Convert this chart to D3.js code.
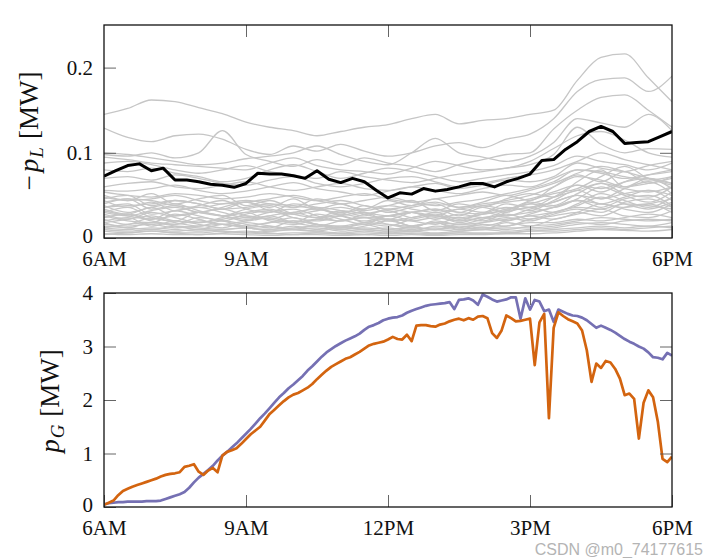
<!DOCTYPE html>
<html>
<head>
<meta charset="utf-8">
<script src="https://cdn.jsdelivr.net/npm/d3@7"></script>
<style>
  body { margin: 0; background: #fff; }
  svg { display: block; }
</style>
</head>
<body>
<div id="chart"></div>
<script>
// ---------------------------------------------------------
//  Load profiles (top) and PV generation (bottom), 6AM-6PM
// ---------------------------------------------------------
const hourTicks  = [6, 9, 12, 15, 18];
const hourLabels = ['6AM', '9AM', '12PM', '3PM', '6PM'];

// gray load profiles, sampled every 30 min, -p_L in MW
const loadHours = d3.range(25).map(i => 6 + i / 2);
const loadProfiles = [
  [.145,.152,.162,.160,.153,.146,.136,.130,.126,.120,.125,.130,.133,.140,.145,.134,.138,.140,.145,.150,.185,.212,.216,.188,.160],
  [.129,.118,.113,.120,.122,.116,.104,.098,.108,.102,.110,.102,.096,.100,.108,.112,.106,.116,.122,.140,.172,.186,.188,.172,.190],
  [.098,.096,.100,.094,.100,.126,.098,.090,.084,.092,.086,.094,.088,.084,.078,.086,.092,.098,.100,.128,.150,.165,.168,.150,.130],
  [.100,.098,.094,.090,.086,.088,.093,.096,.100,.108,.098,.090,.086,.100,.117,.100,.095,.090,.096,.112,.140,.135,.130,.145,.126],
  [.095,.092,.088,.086,.084,.082,.080,.088,.094,.085,.080,.078,.075,.082,.090,.085,.080,.082,.090,.105,.120,.125,.115,.100,.095],
  [.088,.090,.086,.080,.076,.080,.085,.078,.074,.070,.078,.072,.068,.065,.070,.075,.078,.082,.086,.098,.130,.110,.100,.105,.104],
  [.080,.078,.082,.076,.072,.066,.070,.080,.086,.078,.070,.076,.082,.078,.072,.066,.070,.074,.078,.085,.096,.090,.086,.080,.088],
  [.070,.072,.068,.074,.070,.064,.062,.068,.072,.064,.060,.064,.070,.072,.066,.060,.064,.070,.074,.080,.090,.100,.092,.086,.080],
  [.060,.064,.066,.060,.058,.062,.066,.060,.056,.060,.064,.058,.056,.060,.064,.058,.062,.068,.066,.072,.088,.082,.078,.085,.090],
  [.056,.055,.058,.062,.056,.052,.055,.060,.065,.058,.054,.050,.055,.060,.056,.052,.058,.062,.060,.070,.080,.078,.072,.068,.072],
  [.050,.044,.052,.040,.046,.050,.038,.044,.036,.046,.040,.034,.044,.038,.046,.036,.042,.050,.044,.060,.074,.066,.078,.064,.072],
  [.046,.050,.038,.044,.040,.034,.042,.036,.046,.034,.040,.032,.038,.044,.032,.040,.036,.046,.052,.048,.066,.080,.060,.070,.058],
  [.044,.036,.042,.032,.038,.044,.034,.030,.040,.036,.028,.038,.030,.036,.040,.030,.038,.034,.044,.052,.058,.072,.084,.070,.062],
  [.040,.046,.034,.038,.030,.036,.042,.032,.028,.036,.032,.026,.034,.030,.026,.034,.030,.040,.036,.048,.062,.054,.066,.074,.080],
  [.038,.030,.036,.040,.032,.026,.034,.038,.028,.024,.032,.028,.022,.030,.034,.026,.036,.030,.042,.038,.052,.064,.052,.048,.060],
  [.036,.040,.028,.032,.036,.030,.024,.030,.034,.026,.020,.028,.032,.024,.030,.022,.028,.036,.032,.044,.056,.046,.058,.066,.052],
  [.034,.028,.036,.026,.030,.034,.026,.022,.030,.034,.026,.020,.026,.030,.022,.028,.024,.032,.040,.036,.046,.060,.050,.042,.054],
  [.032,.026,.022,.032,.026,.020,.028,.032,.024,.020,.026,.030,.020,.024,.028,.020,.030,.026,.034,.042,.050,.040,.048,.056,.044],
  [.030,.036,.024,.020,.030,.026,.020,.024,.018,.028,.022,.016,.026,.020,.016,.024,.020,.030,.036,.030,.040,.052,.044,.036,.048],
  [.028,.022,.030,.024,.018,.024,.030,.020,.016,.022,.026,.018,.014,.022,.026,.018,.024,.020,.028,.036,.044,.036,.046,.050,.038],
  [.026,.020,.018,.028,.022,.016,.020,.026,.018,.014,.020,.024,.016,.012,.020,.016,.022,.028,.022,.030,.038,.048,.040,.034,.042],
  [.024,.028,.020,.016,.024,.020,.014,.018,.024,.016,.012,.018,.022,.014,.018,.012,.018,.024,.020,.028,.034,.030,.042,.046,.036],
  [.022,.016,.024,.018,.014,.020,.016,.012,.020,.016,.010,.014,.020,.014,.010,.016,.014,.020,.026,.022,.030,.040,.034,.030,.040],
  [.020,.024,.014,.020,.016,.012,.018,.014,.010,.016,.012,.016,.010,.014,.018,.010,.016,.014,.022,.026,.030,.026,.036,.040,.030],
  [.018,.012,.018,.014,.010,.016,.012,.010,.014,.010,.014,.010,.012,.008,.014,.012,.010,.018,.014,.022,.028,.034,.026,.024,.032],
  [.016,.014,.016,.012,.014,.016,.012,.010,.012,.014,.010,.012,.010,.012,.010,.014,.012,.014,.018,.018,.022,.020,.024,.028,.024],
  [.014,.012,.010,.014,.012,.010,.012,.014,.010,.008,.012,.010,.008,.010,.012,.010,.012,.010,.014,.016,.020,.024,.022,.020,.022],
  [.012,.010,.012,.010,.008,.010,.012,.008,.010,.012,.008,.010,.008,.008,.010,.008,.010,.012,.012,.014,.018,.016,.020,.022,.020],
  [.010,.008,.010,.008,.010,.008,.006,.008,.010,.008,.006,.008,.006,.008,.006,.008,.010,.008,.010,.012,.016,.018,.016,.014,.018],
  [.008,.006,.008,.006,.006,.008,.006,.005,.006,.006,.005,.006,.005,.006,.005,.006,.006,.006,.008,.010,.012,.014,.012,.014,.012],
  [.005,.004,.005,.004,.004,.005,.004,.003,.004,.004,.003,.004,.003,.004,.003,.004,.004,.005,.005,.006,.008,.010,.009,.008,.010],
  [.042,.046,.044,.038,.036,.040,.044,.040,.036,.040,.044,.038,.034,.038,.042,.036,.040,.044,.050,.060,.072,.068,.060,.064,.070],
  [.048,.044,.046,.050,.044,.040,.042,.046,.050,.044,.040,.044,.048,.042,.038,.042,.046,.052,.058,.066,.080,.076,.070,.074,.078],
  [.030,.026,.032,.036,.030,.026,.030,.034,.028,.032,.036,.030,.026,.030,.034,.030,.028,.034,.040,.048,.056,.064,.058,.054,.060],
  [.024,.028,.022,.026,.030,.026,.022,.026,.030,.024,.028,.024,.026,.030,.026,.024,.028,.032,.036,.042,.050,.046,.052,.056,.050],
  [.018,.022,.026,.020,.018,.022,.026,.022,.018,.022,.020,.024,.022,.020,.024,.020,.024,.026,.030,.036,.044,.040,.036,.040,.046],
  [.012,.016,.018,.016,.020,.016,.014,.018,.020,.016,.014,.018,.016,.014,.018,.016,.018,.022,.026,.030,.036,.034,.040,.038,.034],
  [.054,.050,.048,.052,.050,.046,.048,.052,.048,.044,.048,.052,.046,.042,.046,.050,.054,.050,.056,.064,.076,.084,.078,.070,.064],
  [.004,.006,.008,.006,.004,.006,.008,.006,.004,.006,.005,.004,.006,.005,.004,.006,.005,.006,.008,.008,.010,.012,.010,.012,.014],
  [.036,.038,.040,.044,.040,.034,.036,.040,.038,.034,.030,.034,.038,.034,.030,.034,.038,.042,.046,.054,.062,.058,.066,.070,.064]
];

// highlighted (black) profile, every 15 min
const meanHours = d3.range(49).map(i => 6 + i / 4);
const meanLoad = [.0725,.079,.085,.087,.079,.082,.068,.068,.066,.063,.062,.0595,.064,.076,.075,.075,
  .073,.070,.079,.069,.065,.070,.066,.056,.047,.053,.0515,.058,.055,.057,.060,.064,.064,.060,.066,.070,
  .075,.091,.092,.104,.113,.125,.131,.125,.111,.112,.113,.119,.125];

// PV generation, every 6 min, p_G in MW
const pvHours = d3.range(121).map(i => 6 + i / 10);
const pvPurple = [
  .05,.07,.08,.09,.09,.10,.10,.10,.10,.11,
  .11,.11,.12,.15,.18,.21,.24,.28,.36,.46,
  .55,.62,.69,.77,.87,.96,1.03,1.11,1.19,1.28,
  1.37,1.46,1.56,1.66,1.75,1.85,1.95,2.05,2.13,2.22,
  2.29,2.37,2.45,2.55,2.63,2.72,2.81,2.89,2.95,3.01,
  3.06,3.11,3.15,3.19,3.24,3.31,3.37,3.40,3.44,3.49,
  3.52,3.54,3.55,3.58,3.63,3.67,3.70,3.73,3.76,3.78,
  3.79,3.80,3.81,3.83,3.70,3.87,3.88,3.90,3.86,3.78,
  3.97,3.93,3.88,3.84,3.86,3.88,3.92,3.92,3.52,3.90,
  3.69,3.87,3.84,3.66,3.69,3.46,3.69,3.65,3.61,3.58,
  3.57,3.54,3.49,3.42,3.35,3.39,3.35,3.31,3.26,3.20,
  3.14,3.09,3.05,3.00,2.96,2.89,2.80,2.79,2.76,2.88,
  2.83
];
const pvOrange = [
  .04,.08,.12,.22,.30,.34,.38,.41,.44,.47,
  .50,.53,.57,.60,.62,.63,.65,.75,.77,.80,
  .66,.60,.68,.73,.65,.96,1.03,1.06,1.10,1.18,
  1.27,1.36,1.43,1.50,1.62,1.74,1.82,1.90,1.98,2.05,
  2.10,2.13,2.18,2.23,2.30,2.39,2.47,2.55,2.62,2.67,
  2.72,2.77,2.80,2.85,2.90,2.96,3.02,3.05,3.07,3.09,
  3.13,3.18,3.14,3.13,3.22,3.10,3.39,3.40,3.40,3.38,
  3.37,3.41,3.43,3.47,3.50,3.52,3.49,3.53,3.50,3.56,
  3.57,3.53,3.25,3.16,3.30,3.58,3.53,3.47,3.48,3.50,
  3.52,2.65,3.45,3.61,1.66,3.35,3.64,3.57,3.51,3.47,
  3.43,3.30,2.93,2.34,2.68,2.60,2.73,2.70,2.58,2.40,
  2.09,2.12,2.02,1.28,1.95,2.18,2.05,1.60,0.90,0.84,
  0.94
];

const loadTicks = [0, 0.1, 0.2];
const pvTicks   = [0, 1, 2, 3, 4];

// ---------------------------------------------------------
const W = 719, H = 558;
const FONT = '"Liberation Serif", "Times New Roman", serif';

const svg = d3.select('#chart').append('svg')
  .attr('width', W).attr('height', H)
  .attr('viewBox', `0 0 ${W} ${H}`);
svg.append('rect').attr('width', W).attr('height', H).attr('fill', '#fff');

const x = d3.scaleLinear().domain([6, 18]).range([104, 672]);

function makePanel(id, yTop, yBottom, yMax, yTicks) {
  const y = d3.scaleLinear().domain([0, yMax]).range([yBottom, yTop]);
  const g = svg.append('g');
  g.append('clipPath').attr('id', id)
    .append('rect')
    .attr('x', x.range()[0]).attr('y', yTop)
    .attr('width', x.range()[1] - x.range()[0]).attr('height', yBottom - yTop);
  const plot = g.append('g').attr('clip-path', `url(#${id})`);
  return { g, plot, y, yTop, yBottom, yTicks };
}

function drawAxes(p, fmt) {
  const { g, y, yTop, yBottom, yTicks } = p;
  const [x0, x1] = x.range();

  g.append('g').attr('transform', `translate(0,${yBottom})`)
    .call(d3.axisBottom(x).tickValues(hourTicks)
      .tickFormat((d, i) => hourLabels[i])
      .tickSizeInner(-12).tickSizeOuter(0).tickPadding(13));
  g.append('g').attr('transform', `translate(0,${yTop})`)
    .call(d3.axisTop(x).tickValues(hourTicks.slice(1, -1))
      .tickFormat('').tickSizeInner(-12).tickSizeOuter(0));
  const yAxis = g.append('g').attr('transform', `translate(${x0},0)`)
    .call(d3.axisLeft(y).tickValues(yTicks).tickFormat(fmt)
      .tickSizeInner(-12).tickSizeOuter(0).tickPadding(11));
  // lift the zero label a touch so it clears the first hour label
  yAxis.selectAll('.tick text').filter(d => d === 0).attr('y', -2.5);
  g.append('g').attr('transform', `translate(${x1},0)`)
    .call(d3.axisRight(y).tickValues(yTicks.slice(1, -1))
      .tickFormat('').tickSizeInner(-12).tickSizeOuter(0));

  g.selectAll('.domain').remove();
  g.selectAll('.tick line').attr('stroke', '#555').attr('stroke-width', 0.9);
  g.selectAll('.tick text')
    .attr('font-family', FONT).attr('font-size', 21).attr('fill', '#111');

  g.append('rect')
    .attr('x', x0).attr('y', yTop)
    .attr('width', x1 - x0).attr('height', yBottom - yTop)
    .attr('fill', 'none').attr('stroke', '#111').attr('stroke-width', 1.3);
}

function ylabel(cx, cy, sub, minus) {
  const t = svg.append('text')
    .attr('transform', `translate(${cx},${cy}) rotate(-90)`)
    .attr('text-anchor', 'middle')
    .attr('font-family', FONT).attr('font-size', 27).attr('fill', '#111');
  if (minus) t.append('tspan').text('\u2212');
  t.append('tspan').attr('font-style', 'italic').attr('dx', minus ? 3 : 0).text('p');
  t.append('tspan').attr('font-style', 'italic').attr('font-size', 19)
    .attr('dy', 5).attr('dx', 1).text(sub);
  t.append('tspan').attr('dy', -5).attr('dx', 8).text('[MW]');
}

// ---- top panel: loads ----
const loadPanel = makePanel('clip-load', 25, 238, 0.25, loadTicks);
const lineLoad = d3.line()
  .x((d, i) => x(loadHours[i])).y(d => loadPanel.y(d))
  .curve(d3.curveMonotoneX);

loadPanel.plot.append('g')
  .selectAll('path')
  .data(loadProfiles)
  .join('path')
  .attr('d', lineLoad)
  .attr('fill', 'none')
  .attr('stroke', '#c6c6c6')
  .attr('stroke-width', 1.3);

loadPanel.plot.append('path')
  .datum(meanLoad)
  .attr('d', d3.line().x((d, i) => x(meanHours[i])).y(d => loadPanel.y(d)))
  .attr('fill', 'none')
  .attr('stroke', '#000')
  .attr('stroke-width', 3)
  .attr('stroke-linejoin', 'round');

drawAxes(loadPanel, d => d === 0 ? '0' : d3.format('.1f')(d));
ylabel(38, 131, 'L', true);

// ---- bottom panel: PV ----
const pvPanel = makePanel('clip-pv', 293, 507, 4, pvTicks);
const linePv = d3.line().x((d, i) => x(pvHours[i])).y(d => pvPanel.y(d));

pvPanel.plot.append('path')
  .datum(pvPurple)
  .attr('d', linePv)
  .attr('fill', 'none')
  .attr('stroke', '#7570b3')
  .attr('stroke-width', 2.7)
  .attr('stroke-linejoin', 'round');

pvPanel.plot.append('path')
  .datum(pvOrange)
  .attr('d', linePv)
  .attr('fill', 'none')
  .attr('stroke', '#d3640f')
  .attr('stroke-width', 2.7)
  .attr('stroke-linejoin', 'round');

drawAxes(pvPanel, d3.format('d'));
ylabel(59, 401, 'G', false);

// watermark
svg.append('text')
  .attr('x', 703).attr('y', 554.5)
  .attr('text-anchor', 'end')
  .attr('font-family', '"Liberation Sans", Arial, sans-serif')
  .attr('font-size', 16)
  .attr('fill', '#b4b4b4')
  .text('CSDN @m0_74177615');
</script>
</body>
</html>
